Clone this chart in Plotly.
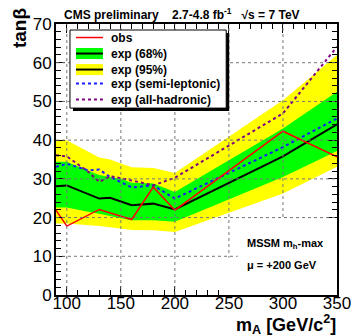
import plotly.graph_objects as go

# ---------------- data ----------------
mass_obs = [90, 100, 130, 160, 180, 200, 300, 350]
tanb_obs = [21.9, 17.8, 22.1, 19.5, 27.9, 21.9, 42.3, 35.7]

mass_exp = [90, 100, 130, 140, 160, 180, 200, 300, 350]
tanb_exp = [28.1, 28.3, 24.9, 25.1, 23.2, 23.6, 22.1, 35.8, 44.1]

mass_band = [90, 100, 120, 130, 140, 150, 160, 180, 200, 300, 350]
band68_hi = [34.4, 34.4, 32.0, 31.0, 30.5, 30.0, 29.0, 28.8, 26.6, 43.0, 52.5]
band68_lo = [22.6, 22.6, 21.5, 21.0, 20.5, 19.8, 19.3, 19.3, 18.9, 30.5, 37.2]
band95_hi = [40.0, 40.0, 37.0, 35.5, 35.0, 34.0, 33.0, 32.8, 31.5, 50.3, 62.0]
band95_lo = [18.5, 18.5, 18.0, 17.8, 17.5, 17.2, 16.8, 16.7, 16.3, 26.2, 33.1]

mass_semi = [90, 100, 120, 130, 140, 160, 180, 200, 300, 350]
tanb_semi = [33.1, 33.9, 32.2, 32.4, 30.5, 27.8, 28.3, 24.9, 38.2, 45.6]

mass_had = [90, 100, 120, 130, 140, 160, 180, 200, 300, 350]
tanb_had = [36.1, 35.8, 31.8, 29.2, 30.7, 29.6, 28.3, 30.3, 46.9, 64.1]

x_ticks = [100, 150, 200, 250, 300, 350]
y_ticks = [0, 10, 20, 30, 40, 50, 60, 70]
x_range = [90, 350]
y_range = [0, 70]

legend_labels = ["obs", "exp (68%)", "exp (95%)", "exp (semi-leptonic)", "exp (all-hadronic)"]

# ---------------- style ----------------
FONT = "Liberation Sans, Arial, Helvetica, sans-serif"
RED = "#ff0000"
GREEN = "#00ff00"
YELLOW = "#ffff00"
BLUE = "#1a1aff"
PURPLE = "#800080"

W, H = 354, 336
L, R, T, B = 56, 337.5, 24, 294.7   # plot area in pixels


def px2x(px):
    return (px - L) / (R - L)


def py2y(py):
    return (B - py) / (B - T)


fig = go.Figure()

# 95% band
fig.add_trace(go.Scatter(
    x=mass_band + mass_band[::-1],
    y=band95_hi + band95_lo[::-1],
    fill="toself", fillcolor=YELLOW, line=dict(width=0), mode="lines",
    hoverinfo="skip", showlegend=False))
# 68% band
fig.add_trace(go.Scatter(
    x=mass_band + mass_band[::-1],
    y=band68_hi + band68_lo[::-1],
    fill="toself", fillcolor=GREEN, line=dict(width=0), mode="lines",
    hoverinfo="skip", showlegend=False))
# expected median
fig.add_trace(go.Scatter(x=mass_exp, y=tanb_exp, mode="lines",
                         line=dict(color="black", width=2), showlegend=False))
# semi-leptonic
fig.add_trace(go.Scatter(x=mass_semi, y=tanb_semi, mode="lines",
                         line=dict(color=BLUE, width=2, dash="dot"), showlegend=False))
# all-hadronic
fig.add_trace(go.Scatter(x=mass_had, y=tanb_had, mode="lines",
                         line=dict(color=PURPLE, width=2, dash="dot"), showlegend=False))
# observed
fig.add_trace(go.Scatter(x=mass_obs, y=tanb_obs, mode="lines",
                         line=dict(color=RED, width=1.5), showlegend=False))

shapes = []
# grid lines drawn above the bands (as in the reference)
for xv in x_ticks[:-1]:
    shapes.append(dict(type="line", xref="x", yref="paper", x0=xv, x1=xv, y0=0, y1=1,
                       line=dict(color="#777777", width=1, dash="dot"), layer="above"))
for yv in y_ticks[1:-1]:
    shapes.append(dict(type="line", xref="paper", yref="y", x0=0, x1=1, y0=yv, y1=yv,
                       line=dict(color="#777777", width=1, dash="dot"), layer="above"))

# white pave behind the MSSM text
shapes.append(dict(type="rect", xref="paper", yref="paper",
                   x0=px2x(238), x1=1, y0=0, y1=py2y(219),
                   fillcolor="white", line=dict(width=0), layer="above"))
shapes.append(dict(type="rect", xref="paper", yref="paper",
                   x0=px2x(225), x1=1, y0=0, y1=py2y(257.5),
                   fillcolor="white", line=dict(width=0), layer="above"))

# legend box with shadow
shapes.append(dict(type="rect", xref="paper", yref="paper",
                   x0=px2x(73), x1=px2x(229.5), y0=py2y(111), y1=py2y(33),
                   fillcolor="black", line=dict(width=0), layer="above"))
shapes.append(dict(type="rect", xref="paper", yref="paper",
                   x0=px2x(70), x1=px2x(226.5), y0=py2y(108), y1=py2y(30),
                   fillcolor="white", line=dict(color="black", width=1), layer="above"))

sx0, sx1 = px2x(76), px2x(103)
row_y = [37.5, 53.5, 69.5, 83.5, 99.5]
# obs
shapes.append(dict(type="line", xref="paper", yref="paper", x0=sx0, x1=sx1,
                   y0=py2y(row_y[0]), y1=py2y(row_y[0]),
                   line=dict(color=RED, width=1.5), layer="above"))
# 68%
shapes.append(dict(type="rect", xref="paper", yref="paper", x0=sx0, x1=sx1,
                   y0=py2y(row_y[1] + 5.5), y1=py2y(row_y[1] - 5.5),
                   fillcolor=GREEN, line=dict(width=0), layer="above"))
shapes.append(dict(type="line", xref="paper", yref="paper", x0=sx0, x1=sx1,
                   y0=py2y(row_y[1]), y1=py2y(row_y[1]),
                   line=dict(color="black", width=2), layer="above"))
# 95%
shapes.append(dict(type="rect", xref="paper", yref="paper", x0=sx0, x1=sx1,
                   y0=py2y(row_y[2] + 5.5), y1=py2y(row_y[2] - 5.5),
                   fillcolor=YELLOW, line=dict(width=0), layer="above"))
shapes.append(dict(type="line", xref="paper", yref="paper", x0=sx0, x1=sx1,
                   y0=py2y(row_y[2]), y1=py2y(row_y[2]),
                   line=dict(color="black", width=2), layer="above"))
# semi-leptonic
shapes.append(dict(type="line", xref="paper", yref="paper", x0=sx0, x1=sx1,
                   y0=py2y(row_y[3]), y1=py2y(row_y[3]),
                   line=dict(color=BLUE, width=2, dash="dot"), layer="above"))
# all-hadronic
shapes.append(dict(type="line", xref="paper", yref="paper", x0=sx0, x1=sx1,
                   y0=py2y(row_y[4]), y1=py2y(row_y[4]),
                   line=dict(color=PURPLE, width=2, dash="dot"), layer="above"))

annotations = []
for lab, ry in zip(legend_labels, row_y):
    annotations.append(dict(text=lab, xref="paper", yref="paper", x=px2x(109), y=py2y(ry),
                            xanchor="left", yanchor="middle", showarrow=False,
                            font=dict(family=FONT, size=12, color="black", weight="bold")))

# title
annotations.append(dict(
    text="CMS preliminary\u00a0\u00a0\u00a0 2.7-4.8 fb<sup>-1</sup>\u00a0\u00a0 \u221As = 7 TeV",
    xref="paper", yref="paper", x=px2x(182), y=py2y(14), xanchor="center", yanchor="middle",
    showarrow=False, font=dict(family=FONT, size=12, color="black", weight="bold")))

# axis titles
annotations.append(dict(text="tan\u03b2", xref="paper", yref="paper", x=px2x(20), y=py2y(6),
                        xanchor="center", yanchor="top", textangle=-90, showarrow=False,
                        font=dict(family=FONT, size=19, color="black", weight="bold")))
annotations.append(dict(text="m<sub>A</sub> [GeV/c<sup>2</sup>]", xref="paper", yref="paper",
                        x=px2x(339), y=py2y(324), xanchor="right", yanchor="middle",
                        showarrow=False,
                        font=dict(family=FONT, size=18, color="black", weight="bold")))

# MSSM text
annotations.append(dict(text="MSSM m<sub>h</sub>-max", xref="paper", yref="paper",
                        x=px2x(245), y=py2y(244), xanchor="left", yanchor="middle",
                        showarrow=False,
                        font=dict(family=FONT, size=11, color="black", weight="bold")))
annotations.append(dict(text="\u03bc = +200 GeV", xref="paper", yref="paper",
                        x=px2x(245), y=py2y(265), xanchor="left", yanchor="middle",
                        showarrow=False,
                        font=dict(family=FONT, size=11, color="black", weight="bold")))

axis_common = dict(
    showline=True, linecolor="black", linewidth=2, mirror="ticks",
    ticks="inside", ticklen=9, tickwidth=1, tickcolor="black",
    showgrid=False, zeroline=False,
    tickfont=dict(family=FONT, size=17, color="black"),
)

fig.update_layout(
    width=W, height=H,
    margin=dict(l=L, r=W - R, t=T, b=H - B, autoexpand=False),
    paper_bgcolor="white", plot_bgcolor="white",
    showlegend=False,
    shapes=shapes, annotations=annotations,
    xaxis=dict(range=x_range, tickvals=x_ticks, ticktext=[str(v) for v in x_ticks],
               ticklabelstandoff=-8,
               minor=dict(ticks="inside", dtick=10, tick0=90, ticklen=5, tickcolor="black"),
               **axis_common),
    yaxis=dict(range=y_range, tickvals=y_ticks, ticktext=[str(v) for v in y_ticks],
               ticklabelstandoff=-1,
               minor=dict(ticks="inside", dtick=2, ticklen=5, tickcolor="black"),
               **axis_common),
)

fig.write_html("out.html")
